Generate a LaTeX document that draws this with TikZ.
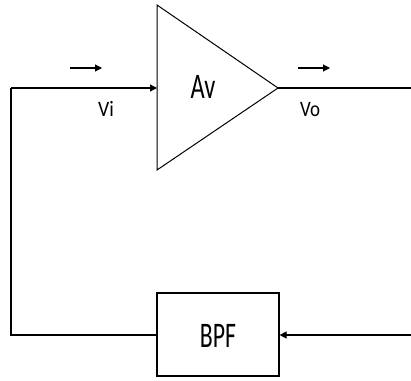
\documentclass[tikz,border=0pt]{standalone}
\usepackage{fontspec}
\setmainfont{Carlito}
\usetikzlibrary{arrows.meta}
\begin{document}
\begin{tikzpicture}[x=1pt,y=-1pt,
  wire/.style={line width=1.1pt},
  tip/.style={-{Triangle[length=7pt,width=7pt]}},
  block/.style={draw,line width=1.2pt,minimum width=122pt,minimum height=83pt,inner sep=0pt},
  lbl/.style={inner sep=0pt}]
\useasboundingbox (0,0) rectangle (411,380);
% amplifier triangle
\coordinate (tl) at (157,5);
\coordinate (bl) at (157,170);
\coordinate (ap) at (278,88);
\coordinate (in) at (157,88);
\draw[line width=1pt] (tl) -- (ap) -- (bl) -- cycle;
\node[lbl] (av) at (203,87) {\scalebox{0.68}[1]{\fontsize{36}{40}\selectfont Av}};
% BPF block
\node[block] (bpf) at (218,334.5) {};
\node[lbl] (bpft) at (218,336) {\scalebox{0.66}[1]{\fontsize{36}{40}\selectfont BPF}};
% corners and ends
\coordinate (cl) at (11,88);
\coordinate (cb) at (11,335);
\coordinate (oe) at (411,88);
\coordinate (re) at (411,335);
% wires
\draw[wire] (bpf.west |- cb) -- (cb) -- (cl);
\draw[wire,tip] (cl) -- (in);
\draw[wire] (ap) -- (oe);
\draw[wire,tip] (re) -- (bpf.east |- re);
% small direction arrows
\coordinate (a1s) at (70,68);
\coordinate (a1e) at (102,68);
\coordinate (a2s) at (298,68);
\coordinate (a2e) at (330,68);
\draw[wire,tip] (a1s) -- (a1e);
\draw[wire,tip] (a2s) -- (a2e);
% labels
\node[lbl] (vi) at (106,108.5) {\scalebox{0.9}[1]{\fontsize{22}{24}\selectfont Vi}};
\node[lbl] (vo) at (310,109.5) {\scalebox{0.86}[1]{\fontsize{22}{24}\selectfont Vo}};
\end{tikzpicture}
\end{document}
